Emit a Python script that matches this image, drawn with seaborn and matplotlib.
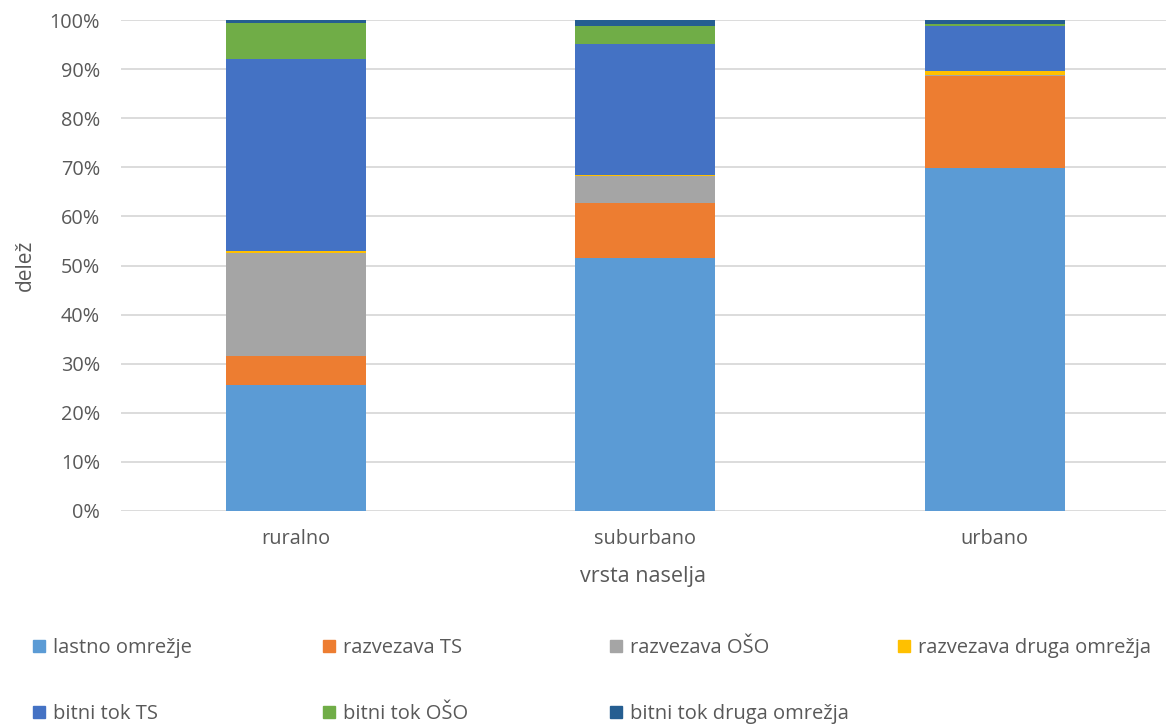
import pandas as pd
import matplotlib.pyplot as plt
from matplotlib.patches import Patch
import seaborn as sns

# Data (share in %)
categories = ['ruralno', 'suburbano', 'urbano']
series_names = ['lastno omrežje', 'razvezava TS', 'razvezava OŠO', 'razvezava druga omrežja',
                'bitni tok TS', 'bitni tok OŠO', 'bitni tok druga omrežja']
lastno = [25.7, 51.6, 69.8]
razv_ts = [5.9, 11.1, 18.7]
razv_oso = [21.0, 5.5, 0.2]
razv_druga = [0.4, 0.3, 0.9]
bitni_ts = [39.0, 26.7, 9.2]
bitni_oso = [7.4, 3.6, 0.4]
bitni_druga = [0.6, 1.2, 0.8]
colors = ['#5B9BD5', '#ED7D31', '#A5A5A5', '#FFC000', '#4472C4', '#70AD47', '#255E91']

values = [lastno, razv_ts, razv_oso, razv_druga, bitni_ts, bitni_oso, bitni_druga]
df = pd.DataFrame(dict(zip(series_names, values)), index=categories)
cum = df.cumsum(axis=1)

sns.set_style('white')
plt.rcParams['font.family'] = ['Open Sans', 'DejaVu Sans']

fig = plt.figure(figsize=(11.66, 7.27), dpi=100)
ax = fig.add_axes([121 / 1166, 1 - 511 / 727, (1166 - 121) / 1166, 491 / 727])

# stacked bars: draw cumulative totals from top layer down
for name, col in reversed(list(zip(series_names, colors))):
    d = pd.DataFrame({'vrsta': categories, 'val': cum[name].values})
    sns.barplot(data=d, x='vrsta', y='val', color=col, width=0.4,
                saturation=1, linewidth=0, ax=ax, zorder=3)

ax.set_ylim(0, 100)
ax.set_xlim(-0.5, 2.49)
ax.set_yticks(range(0, 101, 10))
ax.set_yticklabels([f'{v}%' for v in range(0, 101, 10)])
ax.yaxis.grid(True, color='#D9D9D9', linewidth=1.3, zorder=0)
ax.set_axisbelow(True)
for s in ax.spines.values():
    s.set_visible(False)
ax.tick_params(axis='both', length=0, labelsize=14.3, colors='#595959', pad=15)
ax.tick_params(axis='x', pad=13)
ax.set_xlabel('vrsta naselja', fontsize=15.5, color='#595959', labelpad=12)
ax.set_ylabel('delež', fontsize=15, color='#595959', labelpad=10)

# legend entries at fixed positions (two rows, four columns)
xs = [33, 323, 610, 898]
ys = [648, 714]
for i, (name, col) in enumerate(zip(series_names, colors)):
    x = xs[i % 4] / 1166
    y = 1 - ys[i // 4] / 727
    fig.legend(handles=[Patch(color=col)], labels=[name], loc='center left',
               bbox_to_anchor=(x, y), frameon=False, borderpad=0, borderaxespad=0,
               handlelength=0.6, handleheight=0.6, handletextpad=0.4,
               fontsize=14.5, labelcolor='#595959')

plt.savefig('out.png', dpi=100)
